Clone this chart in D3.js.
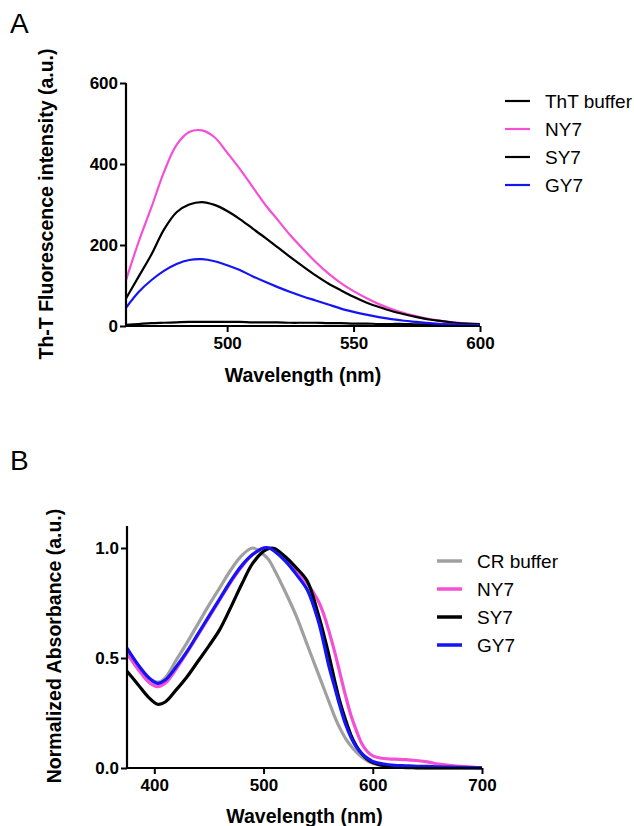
<!DOCTYPE html>
<html>
<head>
<meta charset="utf-8">
<script src="https://cdn.jsdelivr.net/npm/d3@7"></script>
<style>
  body { margin: 0; background: #fff; }
  svg text { font-family: "Liberation Sans", Arial, sans-serif; }
</style>
</head>
<body>
<div class="chart-box"></div>
<script>
// Panel A: ThT fluorescence
var thtWavelength = [460,465,470,475,480,485,490,495,500,505,510,515,520,525,530,535,540,545,550,555,560,565,570,575,580,585,590,595,600];
var thtBuffer = [3,5,7,8,9,10,10,10,10,10,9,9,9,8,8,8,7,7,6,6,5,5,5,4,4,4,3,3,3];
var thtNY7 = [113,208,292,380,447,479,483,466,428,388,344,300,262,224,190,158,130,106,86,69,54,42,32,24,17,12,9,6,5];
var thtSY7 = [68,122,176,238,281,300,306,299,284,264,241,218,194,170,147,125,105,88,72,58,47,37,29,22,16,12,8,6,5];
var thtGY7 = [45,84,113,136,153,163,165,160,150,138,123,109,96,84,73,63,53,43,35,28,22,17,13,10,7,5,4,3,3];
var thtXTicks = [500, 550, 600];
var thtYTicks = [0, 200, 400, 600];

// Panel B: Congo red absorbance
var crWavelength = [375,385,395,403,410,420,430,440,450,460,470,480,490,500,505,510,520,530,540,550,555,560,565,570,575,580,585,590,595,600,610,620,630,640,650,660,670,685,700];
var crBuffer = [0.54,0.47,0.41,0.39,0.41,0.49,0.57,0.655,0.74,0.82,0.9,0.965,1.0,0.97,0.945,0.9,0.8,0.69,0.56,0.43,0.365,0.3,0.235,0.18,0.135,0.1,0.072,0.05,0.033,0.022,0.01,0.005,0.003,0.002,0.001,0.001,0,0,0];
var crNY7 = [0.52,0.45,0.39,0.37,0.385,0.45,0.525,0.605,0.685,0.765,0.845,0.915,0.97,1.0,1.0,0.99,0.95,0.9,0.84,0.76,0.7,0.62,0.53,0.43,0.33,0.24,0.17,0.11,0.075,0.055,0.043,0.04,0.038,0.034,0.028,0.018,0.012,0.006,0];
var crSY7 = [0.44,0.38,0.32,0.29,0.30,0.355,0.415,0.485,0.555,0.63,0.73,0.835,0.93,0.985,0.998,0.998,0.96,0.91,0.85,0.70,0.61,0.51,0.40,0.30,0.22,0.15,0.10,0.065,0.04,0.025,0.01,0.004,0.002,0.001,0,0,0,0,0];
var crGY7 = [0.545,0.47,0.41,0.385,0.40,0.46,0.53,0.61,0.69,0.77,0.85,0.92,0.97,1.0,1.0,0.985,0.94,0.88,0.81,0.67,0.57,0.46,0.37,0.28,0.2,0.14,0.095,0.065,0.045,0.03,0.018,0.012,0.01,0.008,0.007,0.005,0.004,0.002,0];
var crXTicks = [400, 500, 600, 700];
var crYTicks = [0, 0.5, 1.0];

var svg = d3.select(".chart-box").append("svg")
    .attr("width", 634)
    .attr("height", 826);

function drawPanel(opt) {
  var x = d3.scaleLinear().domain(opt.xDomain).range([opt.left, opt.right]);
  var y = d3.scaleLinear().domain(opt.yDomain).range([opt.bottom, opt.top]);
  var g = svg.append("g");

  var line = d3.line()
      .x(function(d) { return x(d[0]); })
      .y(function(d) { return y(d[1]); })
      .curve(d3.curveCatmullRom.alpha(0.5));

  opt.series.forEach(function(s) {
    var pts = opt.xs.map(function(w, i) { return [w, s.values[i]]; });
    g.append("path")
        .attr("d", line(pts))
        .attr("fill", "none")
        .attr("stroke", s.color)
        .attr("stroke-width", opt.lineWidth)
        .attr("stroke-linejoin", "round");
  });

  var xAxis = g.append("g")
      .attr("transform", "translate(0," + opt.bottom + ")")
      .call(d3.axisBottom(x).tickValues(opt.xTicks).tickSize(6).tickPadding(5).tickFormat(d3.format("d")));
  var yAxis = g.append("g")
      .attr("transform", "translate(" + opt.left + ",0)")
      .call(d3.axisLeft(y).tickValues(opt.yTicks).tickSize(6).tickPadding(2).tickFormat(opt.yFormat));

  [xAxis, yAxis].forEach(function(a) {
    a.select(".domain").attr("stroke", "#000").attr("stroke-width", 2.2);
    a.selectAll(".tick line").attr("stroke", "#000").attr("stroke-width", 2);
    a.selectAll(".tick text")
        .attr("fill", "#000")
        .style("font-size", "17px")
        .style("font-weight", "bold");
  });
  xAxis.select(".domain").attr("d", "M" + opt.left + ",0H" + opt.right);
  yAxis.select(".domain").attr("d", "M0," + opt.bottom + "V" + y(opt.yDomain[1]));

  g.append("text")
      .attr("x", (opt.left + opt.right) / 2)
      .attr("y", opt.xLabelY)
      .attr("text-anchor", "middle")
      .style("font-size", "19.5px")
      .style("font-weight", "bold")
      .text("Wavelength (nm)");

  g.append("text")
      .attr("transform", "translate(" + opt.yLabelX + "," + opt.yLabelCy + ") rotate(-90)")
      .attr("text-anchor", "middle")
      .style("font-size", "19.5px")
      .style("font-weight", "bold")
      .text(opt.yLabel);

  g.append("text")
      .attr("x", 10)
      .attr("y", opt.letterY)
      .style("font-size", "28px")
      .text(opt.letter);

  var leg = g.append("g");
  opt.series.forEach(function(s, i) {
    var ly = opt.legY + i * opt.legGap;
    leg.append("line")
        .attr("x1", opt.legX).attr("x2", opt.legX + 25)
        .attr("y1", ly).attr("y2", ly)
        .attr("stroke", s.color)
        .attr("stroke-width", opt.legWidth);
    leg.append("text")
        .attr("x", opt.legX + 40)
        .attr("y", ly + 7)
        .style("font-size", "19px")
        .attr("fill", "#000")
        .text(s.name);
  });
}

drawPanel({
  xDomain: [460, 600], yDomain: [0, 600],
  left: 126, right: 480, top: 83, bottom: 326,
  xs: thtWavelength, xTicks: thtXTicks, yTicks: thtYTicks,
  yFormat: d3.format("d"),
  lineWidth: 2.2,
  series: [
    { name: "ThT buffer", values: thtBuffer, color: "#000" },
    { name: "NY7", values: thtNY7, color: "#f54fd6" },
    { name: "SY7", values: thtSY7, color: "#000" },
    { name: "GY7", values: thtGY7, color: "#1414f5" }
  ],
  xLabelY: 382, yLabelX: 53, yLabelCy: 204,
  yLabel: "Th-T Fluorescence intensity (a.u.)",
  letter: "A", letterY: 33,
  legX: 505, legY: 101, legGap: 28, legWidth: 2.2
});

drawPanel({
  xDomain: [375, 700], yDomain: [0, 1.1],
  left: 127, right: 482, top: 526, bottom: 768,
  xs: crWavelength, xTicks: crXTicks, yTicks: crYTicks,
  yFormat: d3.format(".1f"),
  lineWidth: 3.2,
  series: [
    { name: "CR buffer", values: crBuffer, color: "#a0a0a3" },
    { name: "NY7", values: crNY7, color: "#f54fd6" },
    { name: "SY7", values: crSY7, color: "#000" },
    { name: "GY7", values: crGY7, color: "#1414f5" }
  ],
  xLabelY: 823, yLabelX: 61, yLabelCy: 646,
  yLabel: "Normalized Absorbance (a.u.)",
  letter: "B", letterY: 470,
  legX: 437, legY: 561, legGap: 28, legWidth: 3.5
});
</script>
</body>
</html>
